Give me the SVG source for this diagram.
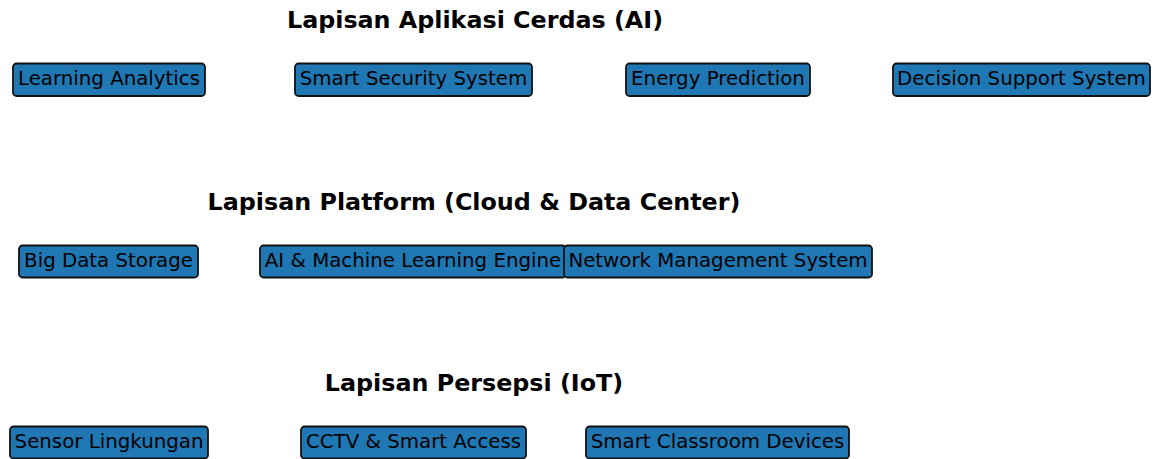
<svg xmlns="http://www.w3.org/2000/svg" width="1157" height="459" viewBox="0 0 1157 459">
<style>
.b{fill:#1f77b4;stroke:#111;stroke-width:1.8}
.t{font-family:"DejaVu Sans",sans-serif;font-size:19.8px;fill:#000;text-anchor:middle}
.h{font-family:"DejaVu Sans",sans-serif;font-size:23.8px;font-weight:bold;fill:#000;text-anchor:middle}
</style>
<rect width="1157" height="459" fill="#fff"/>
<g id="titles">
<text class="h" x="475" y="28">Lapisan Aplikasi Cerdas (AI)</text>
<text class="h" x="474" y="210">Lapisan Platform (Cloud &amp; Data Center)</text>
<text class="h" x="474" y="391">Lapisan Persepsi (IoT)</text>
</g>
<g id="connectors"></g>
<g id="n1"><rect class="b" x="13" y="63.5" width="192" height="32.5" rx="3.5"/><text class="t" x="109" y="85">Learning Analytics</text></g>
<g id="n2"><rect class="b" x="295" y="63.5" width="237" height="32.5" rx="3.5"/><text class="t" x="413.5" y="85">Smart Security System</text></g>
<g id="n3"><rect class="b" x="626" y="63.5" width="184" height="32.5" rx="3.5"/><text class="t" x="718" y="85">Energy Prediction</text></g>
<g id="n4"><rect class="b" x="893" y="63.5" width="257" height="32.5" rx="3.5"/><text class="t" x="1021.5" y="85">Decision Support System</text></g>
<g id="n5"><rect class="b" x="19" y="245.5" width="179" height="32" rx="3.5"/><text class="t" x="108.5" y="267">Big Data Storage</text></g>
<g id="n6"><rect class="b" x="260" y="245.5" width="306" height="32" rx="3.5"/><text class="t" x="413" y="267">AI &amp; Machine Learning Engine</text></g>
<g id="n7"><rect class="b" x="564" y="245.5" width="308" height="32" rx="3.5"/><text class="t" x="718" y="267">Network Management System</text></g>
<g id="n8"><rect class="b" x="10" y="426.5" width="198" height="32" rx="3.5"/><text class="t" x="109" y="448">Sensor Lingkungan</text></g>
<g id="n9"><rect class="b" x="301" y="426.5" width="225" height="32" rx="3.5"/><text class="t" x="413.5" y="448">CCTV &amp; Smart Access</text></g>
<g id="n10"><rect class="b" x="586" y="426.5" width="263" height="32" rx="3.5"/><text class="t" x="717.5" y="448">Smart Classroom Devices</text></g>
</svg>
